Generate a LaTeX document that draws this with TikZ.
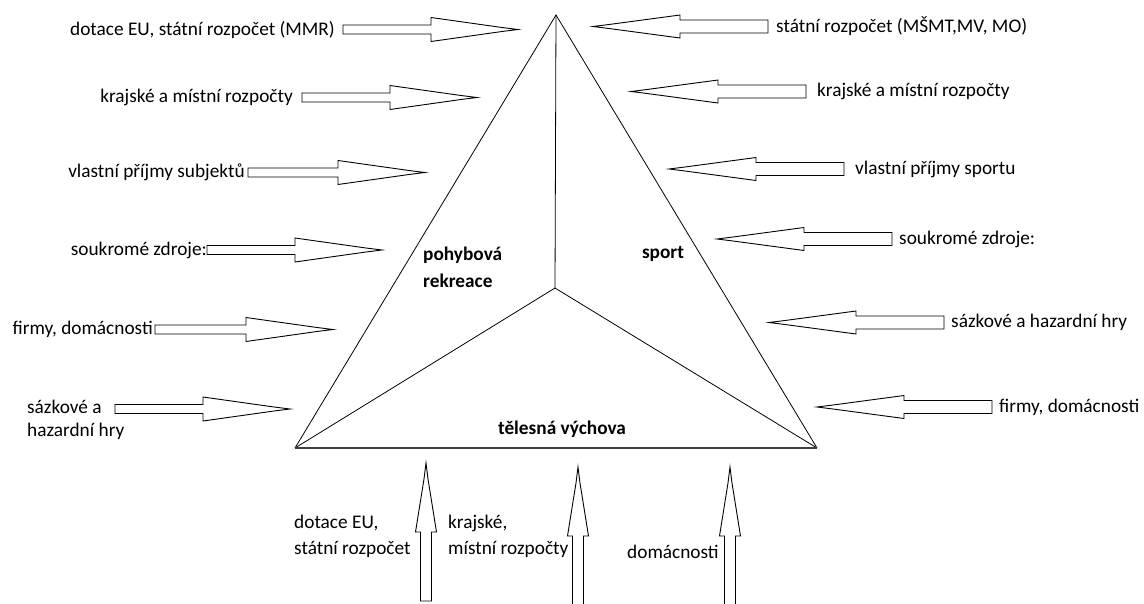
\documentclass[tikz,border=0pt]{standalone}
\usepackage{fontspec}
\setmainfont{Carlito}
\tikzset{
  lbl/.style={inner sep=0pt, text=black, font=\fontsize{19.3}{23}\selectfont},
  lbltwo/.style={lbl, align=left, font=\fontsize{19.3}{26}\selectfont},
  boldlbl/.style={inner sep=0pt, text=black, align=left, font=\fontsize{19.3}{27}\selectfont\bfseries},
  edge/.style={draw=black, line width=0.8pt},
  baseedge/.style={draw=black!75, line width=1.6pt},
  flow/.style={draw=black, line width=0.9pt, fill=white, line join=miter},
}
% #1 tip x, #2 tip y, #3 rotation, #4 total length, #5 head length, #6 head half width, #7 shaft half width
\newcommand\flowarrow[7]{%
  \begin{scope}[shift={(#1,#2)}, rotate=#3]
    \draw[flow] (-#4,-#7) -- (-#5,-#7) -- (-#5,-#6) -- (-16,-2) -- (0,0) -- (-16,2)
      -- (-#5,#6) -- (-#5,#7) -- (-#4,#7) -- cycle;
  \end{scope}}
\begin{document}
\begin{tikzpicture}[x=1pt,y=-1pt]
\useasboundingbox (0,0) rectangle (1144,603);
\clip (0,0) rectangle (1144,603);
\fill[white] (0,0) rectangle (1144,603);

% triangle
\coordinate (A) at (556,15);
\coordinate (BL) at (295,448);
\coordinate (BR) at (817,448);
\coordinate (C) at (555,288);
\draw[edge] (BL) -- (A) -- (BR);
\draw[edge] (A) -- (C);
\draw[edge] (C) -- (BL);
\draw[edge] (C) -- (BR);
\draw[baseedge] (BL) -- (BR);

% area labels
\node[boldlbl, anchor=west] (rek) at (423,267) {pohybová\\rekreace};
\node[boldlbl, anchor=center] (spo) at (663,254) {sport};
\node[boldlbl, anchor=center] (tv) at (562,429) {tělesná výchova};

% left arrows (pointing right)
\flowarrow{518}{29.5}{0}{175}{87}{12}{4.5}
\flowarrow{477}{97.5}{0}{175}{87}{12}{4.5}
\flowarrow{425}{172.5}{0}{177}{87}{12}{4.5}
\flowarrow{382}{250}{0}{175}{87}{12}{4.5}
\flowarrow{333}{329.5}{0}{178}{87}{12}{4.5}
\flowarrow{290}{409}{0}{175}{87}{12}{4.5}

\node[lbl, anchor=east] (l1) at (335,29.5) {dotace EU, státní rozpočet (MMR)};
\node[lbl, anchor=east] (l2) at (293,97.5) {krajské a místní rozpočty};
\node[lbl, anchor=east] (l3) at (245,172.5) {vlastní příjmy subjektů};
\node[lbl, anchor=east] (l4) at (207,250) {soukromé zdroje:};
\node[lbl, anchor=east] (l5) at (153,329.5) {firmy, domácnosti};
\node[lbl, align=left, font=\fontsize{19.3}{23}\selectfont, anchor=west] (l6) at (27,420) {sázkové a\\hazardní hry};

% right arrows (pointing left)
\flowarrow{593}{26.5}{180}{175}{87}{11.5}{6.5}
\flowarrow{631}{91.5}{180}{175}{87}{11.5}{6.5}
\flowarrow{669}{169}{180}{175}{87}{11.5}{6.5}
\flowarrow{717}{239}{180}{175}{87}{11.5}{6.5}
\flowarrow{769}{322.5}{180}{175}{87}{11.5}{6.5}
\flowarrow{817}{407}{180}{175}{87}{11.5}{6.5}

\node[lbl, anchor=west] (r1) at (776,26.5) {státní rozpočet (MŠMT,MV, MO)};
\node[lbl, anchor=west] (r2) at (817,91.5) {krajské a místní rozpočty};
\node[lbl, anchor=west] (r3) at (855,169) {vlastní příjmy sportu};
\node[lbl, anchor=west] (r4) at (899,239) {soukromé zdroje:};
\node[lbl, anchor=west] (r5) at (951,322.5) {sázkové a hazardní hry};
\node[lbl, anchor=west] (r6) at (999,407) {firmy, domácnosti};

% bottom arrows (pointing up)
\flowarrow{426}{463}{90}{138}{69}{10.5}{5.5}
\flowarrow{578}{467}{90}{145}{69}{10.5}{5.5}
\flowarrow{730}{467}{90}{145}{69}{10.5}{5.5}

\node[lbltwo, anchor=west] (b1) at (294,536) {dotace EU,\\státní rozpočet};
\node[lbltwo, anchor=west] (b2) at (448,536) {krajské,\\místní rozpočty};
\node[lbl, anchor=west] (b3) at (627,552) {domácnosti};
\end{tikzpicture}
\end{document}
